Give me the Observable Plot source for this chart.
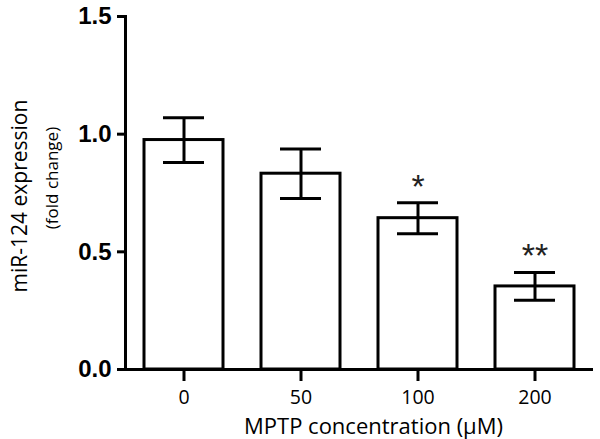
<!DOCTYPE html>
<html><head><meta charset="utf-8">
<script src="https://cdn.jsdelivr.net/npm/d3@7"></script>
<script src="https://cdn.jsdelivr.net/npm/@observablehq/plot@0.6"></script>
<style>body{margin:0;background:#fff}</style>
</head><body><div id="chart"></div>
<script>
const categories = ["0", "50", "100", "200"];
const means = [0.975, 0.832, 0.643, 0.353];
const sems = [0.095, 0.105, 0.066, 0.059];
const stars = ["", "", "*", "**"];
const yTicks = [0, 0.5, 1.0, 1.5];
const xTitle = "MPTP concentration (μM)";
const yTitle = "miR-124 expression";
const ySubtitle = "(fold change)";

const data = categories.map((c, i) => ({c, m: means[i], lo: means[i] - sems[i], hi: means[i] + sems[i], star: stars[i]}));
const textFont = "Open Sans, Noto Sans, sans-serif";

const chart = Plot.plot({
  width: 600, height: 439,
  marginLeft: 125, marginRight: 7, marginTop: 16, marginBottom: 70,
  style: {background: "#fff", color: "#000"},
  x: {type: "band", domain: categories, paddingInner: 0.327, paddingOuter: 0.158},
  y: {domain: [0, 1.5]},
  marks: [
    Plot.barY(data, {x: "c", y: "m", fill: "#fff", stroke: "#000", strokeWidth: 3}),
    Plot.ruleX(data, {x: "c", y1: "lo", y2: "hi", stroke: "#000", strokeWidth: 3}),
    Plot.tickY(data, {x: "c", y: "lo", insetLeft: 19, insetRight: 19, stroke: "#000", strokeWidth: 3}),
    Plot.tickY(data, {x: "c", y: "hi", insetLeft: 19, insetRight: 19, stroke: "#000", strokeWidth: 3}),
    Plot.text(data.filter(d => d.star), {x: "c", y: "hi", text: "star", dy: -16, fontSize: 34, fill: "#222", fontFamily: "Liberation Sans, Arial, sans-serif"}),
    Plot.frame({anchor: "left", stroke: "#000", strokeWidth: 3}),
    Plot.ruleY([0], {stroke: "#000", strokeWidth: 3}),
    Plot.axisY(yTicks, {tickFormat: d => d.toFixed(1), tickSize: 8, tickPadding: 6, strokeWidth: 3, fontSize: 24, fontWeight: "bold", fontFamily: "Liberation Sans, Arial, sans-serif", label: null}),
    Plot.axisX({tickSize: 12, tickPadding: 9, strokeWidth: 3, fontSize: 19.5, fontFamily: textFont, label: null}),
    Plot.text([xTitle], {text: d => d, frameAnchor: "bottom", lineAnchor: "middle", dx: 14, dy: 57, fontSize: 22, fontFamily: textFont}),
    Plot.text([yTitle], {text: d => d, frameAnchor: "left", textAnchor: "middle", lineAnchor: "middle", rotate: -90, dx: -105, dy: 3, fontSize: 21, fontFamily: textFont}),
    Plot.text([ySubtitle], {text: d => d, frameAnchor: "left", textAnchor: "middle", lineAnchor: "middle", rotate: -90, dx: -73, dy: -15, fontSize: 17, fontFamily: textFont})
  ]
});
document.getElementById("chart").appendChild(chart);
</script>
</body></html>
